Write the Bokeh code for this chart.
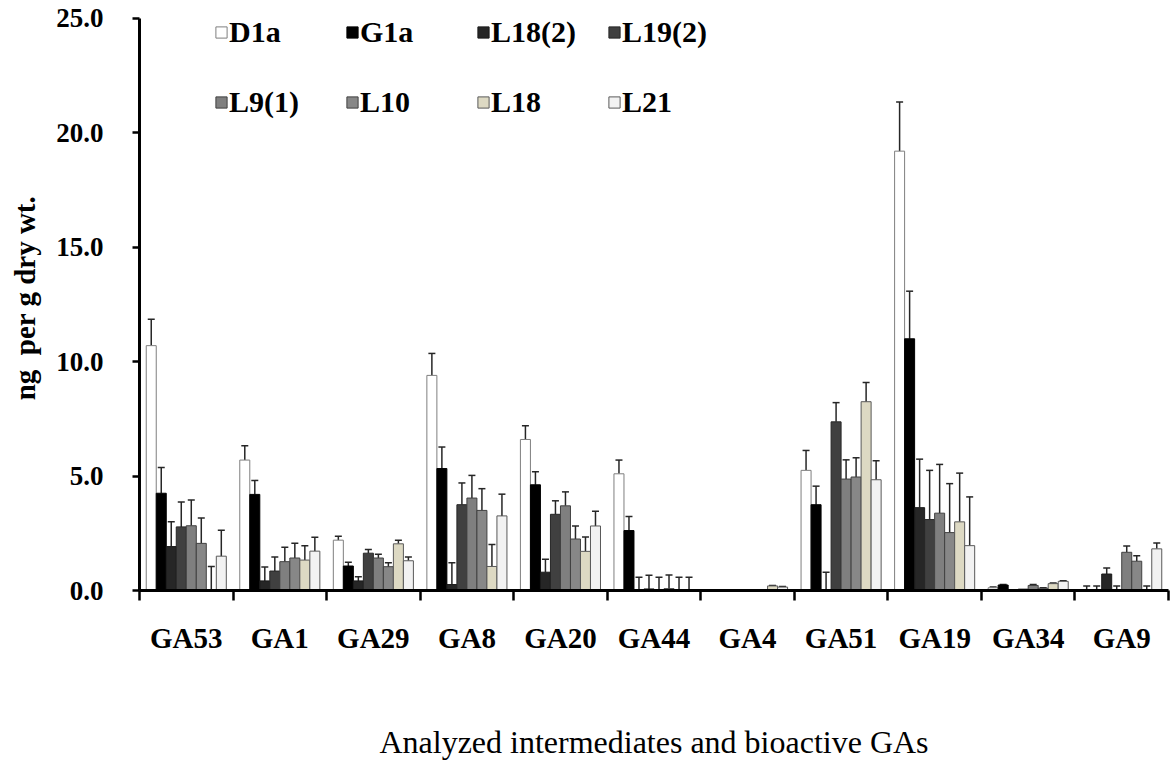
from bokeh.plotting import figure
from bokeh.models import (Range1d, FixedTicker, Whisker, TeeHead, ColumnDataSource,
                          Legend, LegendItem, PrintfTickFormatter)
from bokeh.transform import dodge
from bokeh.embed import file_html
from bokeh.resources import INLINE

groups = ["GA53", "GA1", "GA29", "GA8", "GA20", "GA44", "GA4", "GA51", "GA19", "GA34", "GA9"]
series = ["D1a", "G1a", "L18(2)", "L19(2)", "L9(1)", "L10", "L18", "L21"]

D1a = [10.7, 5.7, 2.2, 9.4, 6.6, 5.1, 0.0, 5.25, 19.2, 0.12, 0.0]
D1a_err = [1.15, 0.63, 0.17, 0.96, 0.6, 0.6, 0.0, 0.87, 2.15, 0.03, 0.2]
G1a = [4.25, 4.2, 1.07, 5.33, 4.62, 2.62, 0.0, 3.75, 11.0, 0.24, 0.0]
G1a_err = [1.13, 0.61, 0.16, 0.94, 0.57, 0.61, 0.0, 0.81, 2.08, 0.02, 0.2]
L18_2 = [1.92, 0.42, 0.42, 0.26, 0.8, 0.0, 0.0, 0.0, 3.62, 0.03, 0.72]
L18_2_err = [1.08, 0.61, 0.18, 0.95, 0.57, 0.58, 0.0, 0.8, 2.12, 0.0, 0.26]
L19_2 = [2.78, 0.85, 1.63, 3.75, 3.33, 0.07, 0.0, 7.37, 3.1, 0.06, 0.0]
L19_2_err = [1.09, 0.61, 0.16, 0.95, 0.59, 0.6, 0.0, 0.84, 2.15, 0.0, 0.2]
L9_1 = [2.83, 1.26, 1.42, 4.04, 3.7, 0.0, 0.0, 4.87, 3.38, 0.22, 1.67]
L9_1_err = [1.12, 0.63, 0.16, 0.99, 0.61, 0.58, 0.0, 0.84, 2.13, 0.04, 0.27]
L10 = [2.06, 1.42, 1.04, 3.5, 2.25, 0.08, 0.0, 4.96, 2.53, 0.1, 1.28]
L10_err = [1.11, 0.64, 0.17, 0.95, 0.57, 0.6, 0.0, 0.84, 2.14, 0.02, 0.24]
L18 = [0.0, 1.33, 2.04, 1.05, 1.71, 0.0, 0.2, 8.25, 3.0, 0.3, 0.0]
L18_err = [1.05, 0.63, 0.16, 0.96, 0.63, 0.58, 0.02, 0.84, 2.13, 0.03, 0.2]
L21 = [1.5, 1.72, 1.3, 3.26, 2.82, 0.0, 0.15, 4.84, 1.96, 0.4, 1.82]
L21_err = [1.13, 0.61, 0.16, 0.95, 0.64, 0.58, 0.02, 0.83, 2.13, 0.03, 0.26]

values = [D1a, G1a, L18_2, L19_2, L9_1, L10, L18, L21]
errors = [D1a_err, G1a_err, L18_2_err, L19_2_err, L9_1_err, L10_err, L18_err, L21_err]
fills = ["#ffffff", "#000000", "#262626", "#404040", "#7f7f7f", "#878787", "#ddd9c3", "#f2f2f2"]
lines = ["#7f7f7f", "#000000", "#1a1a1a", "#262626", "#404040", "#404040", "#595959", "#595959"]

FONT = "Liberation Serif"

# frame: 588 px tall at 23 px per unit -> top of range a little above 25
p = figure(width=1171, height=762, x_range=Range1d(-0.5, 10.5), y_range=Range1d(0, 588 / 23),
           output_backend="svg", toolbar_location=None,
           min_border_left=139, min_border_right=3, min_border_top=5, min_border_bottom=169)
p.outline_line_color = None
p.xgrid.visible = False
p.ygrid.visible = False
p.background_fill_color = "white"
p.border_fill_color = "white"

bw = 0.107
renderers = []
for k, (name, vals, errs) in enumerate(zip(series, values, errors)):
    off = (k - 3.5) * bw
    src = ColumnDataSource(dict(x=list(range(len(groups))), top=vals))
    r = p.vbar(x=dodge("x", off), top="top", bottom=0, width=bw, source=src,
               fill_color=fills[k], line_color=lines[k], line_width=1)
    renderers.append(r)
    xs = [i for i, e in enumerate(errs) if e > 0]
    wsrc = ColumnDataSource(dict(x=xs,
                                 lo=[vals[i] for i in xs],
                                 hi=[vals[i] + errs[i] for i in xs]))
    w = Whisker(source=wsrc, base=dodge("x", off), lower="lo", upper="hi", dimension="height",
                line_color="#262626", line_width=1.5,
                upper_head=TeeHead(size=7, line_color="#262626", line_width=1.5),
                lower_head=None)
    p.add_layout(w)

# x axis
xa = p.xaxis[0]
xa.ticker = FixedTicker(ticks=list(range(len(groups))),
                        minor_ticks=[i - 0.5 for i in range(len(groups) + 1)])
xa.major_label_overrides = {i: g for i, g in enumerate(groups)}
xa.major_tick_line_color = None
xa.major_tick_out = 10
xa.major_tick_in = 0
xa.minor_tick_out = 10
xa.minor_tick_in = 0
xa.minor_tick_line_width = 2.5
xa.minor_tick_line_color = "black"
xa.axis_line_width = 3
xa.axis_line_color = "black"
xa.major_label_standoff = 21
xa.major_label_text_font = FONT
xa.major_label_text_font_style = "bold"
xa.major_label_text_font_size = "29px"
xa.major_label_text_color = "black"
xa.axis_label = "Analyzed intermediates and bioactive GAs"
xa.axis_label_text_font = FONT
xa.axis_label_text_font_style = "normal"
xa.axis_label_text_font_size = "32px"
xa.axis_label_text_color = "black"
xa.axis_label_standoff = 67

# y axis
ya = p.yaxis[0]
ya.ticker = FixedTicker(ticks=[0, 5, 10, 15, 20, 25])
ya.bounds = (0, 25)
ya.formatter = PrintfTickFormatter(format="%.1f")
ya.major_tick_out = 7
ya.major_tick_in = 0
ya.major_tick_line_width = 2.5
ya.major_tick_line_color = "black"
ya.minor_tick_line_color = None
ya.axis_line_width = 3
ya.axis_line_color = "black"
ya.major_label_standoff = 29
ya.major_label_text_font = FONT
ya.major_label_text_font_style = "bold"
ya.major_label_text_font_size = "27px"
ya.major_label_text_color = "black"
ya.axis_label = "ng\u00a0 per g dry wt."
ya.axis_label_text_font = FONT
ya.axis_label_text_font_style = "bold"
ya.axis_label_text_font_size = "29px"
ya.axis_label_text_color = "black"
ya.axis_label_standoff = 12

legend_style = dict(orientation="horizontal", glyph_width=14, glyph_height=14,
                    label_standoff=1, label_width=100, label_height=36, spacing=16,
                    padding=0, margin=0,
                    border_line_color=None, background_fill_alpha=0,
                    label_text_font=FONT, label_text_font_style="bold",
                    label_text_font_size="30px", label_text_color="black")
leg1 = Legend(items=[LegendItem(label=series[k], renderers=[renderers[k]]) for k in range(4)],
              location=(75, 540), **legend_style)
leg2 = Legend(items=[LegendItem(label=series[k], renderers=[renderers[k]]) for k in range(4, 8)],
              location=(75, 470), **legend_style)
p.add_layout(leg1)
p.add_layout(leg2)

open("out.html", "w").write(file_html(p, INLINE))
